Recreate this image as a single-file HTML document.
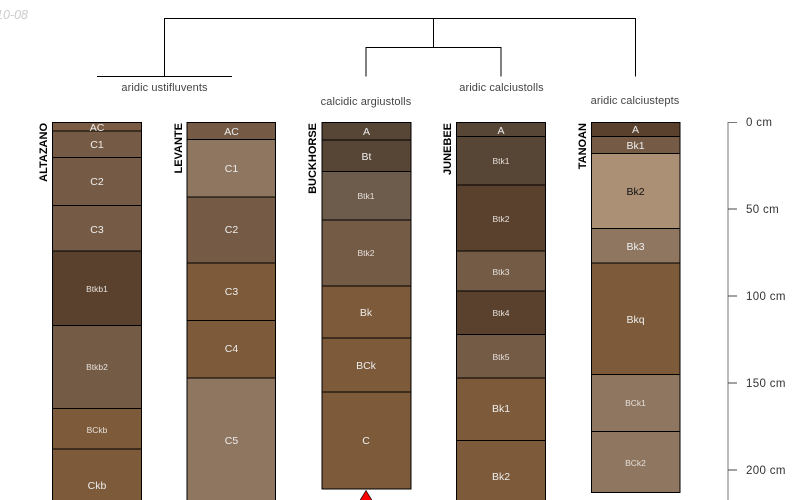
<!DOCTYPE html>
<html><head><meta charset="utf-8"><style>
html,body{margin:0;padding:0;background:#fff}
svg{display:block}
text{font-family:"Liberation Sans",sans-serif}
.h text{font-size:10.5px;fill:#eee;text-anchor:middle}
.h text.s{font-size:8.5px;fill:#e6e0da}
.n{font-size:11px;font-weight:bold;fill:#000;text-anchor:end}
.t{font-size:11px;fill:#444;text-anchor:middle;letter-spacing:.1px}
.d{font-size:11.5px;fill:#333;letter-spacing:.35px}
</style></head><body>
<svg width="800" height="500" viewBox="0 0 800 500" xmlns="http://www.w3.org/2000/svg">
<text x="28" y="19" text-anchor="end" font-size="12.5" font-style="italic" fill="#ccc">2010-08</text>
<g fill="none" stroke="#000" stroke-width="1">
<path d="M164.500 76V18.500H635.500V76.500"/><path d="M97 76.500H232"/>
<path d="M433.500 18.500V47.500"/><path d="M366 76.500V47.500H501V76.500"/>
</g>
<text class="t" x="164.500" y="91">aridic ustifluvents</text>
<text class="t" x="366" y="105">calcidic argiustolls</text>
<text class="t" x="501.500" y="91">aridic calciustolls</text>
<text class="t" x="635" y="104">aridic calciustepts</text>
<g stroke="#000" stroke-width="1">
<rect x="52.500" y="122.500" width="89" height="8.500" fill="#7a5c45"/>
<rect x="52.500" y="131" width="89" height="26.500" fill="#755b45"/>
<rect x="52.500" y="157.500" width="89" height="48" fill="#755b45"/>
<rect x="52.500" y="205.500" width="89" height="45.500" fill="#755b45"/>
<rect x="52.500" y="251" width="89" height="74.500" fill="#5a412e"/>
<rect x="52.500" y="325.500" width="89" height="83" fill="#745b46"/>
<rect x="52.500" y="408.500" width="89" height="40.500" fill="#7c5a3a"/>
<rect x="52.500" y="449" width="89" height="70" fill="#7c5a3a"/>
<rect x="187" y="122.500" width="88.500" height="17" fill="#755b45"/>
<rect x="187" y="139.500" width="88.500" height="57.500" fill="#8f7660"/>
<rect x="187" y="197" width="88.500" height="66" fill="#755b45"/>
<rect x="187" y="263" width="88.500" height="57.500" fill="#7c5a3a"/>
<rect x="187" y="320.500" width="88.500" height="57.500" fill="#7c5a3a"/>
<rect x="187" y="378" width="88.500" height="130" fill="#8f7660"/>
<rect x="322" y="122.500" width="89" height="17.500" fill="#574536"/>
<rect x="322" y="140" width="89" height="31.500" fill="#574536"/>
<rect x="322" y="171.500" width="89" height="48.500" fill="#6d5b4c"/>
<rect x="322" y="220" width="89" height="66" fill="#745b46"/>
<rect x="322" y="286" width="89" height="52" fill="#7c5a3a"/>
<rect x="322" y="338" width="89" height="54" fill="#7c5a3a"/>
<rect x="322" y="392" width="89" height="97" fill="#7c5a3a"/>
<rect x="456.500" y="122.500" width="89" height="14" fill="#574536"/>
<rect x="456.500" y="136.500" width="89" height="48.500" fill="#574536"/>
<rect x="456.500" y="185" width="89" height="66" fill="#5a412e"/>
<rect x="456.500" y="251" width="89" height="40" fill="#745b46"/>
<rect x="456.500" y="291" width="89" height="43.500" fill="#5a412e"/>
<rect x="456.500" y="334.500" width="89" height="43.500" fill="#745b46"/>
<rect x="456.500" y="378" width="89" height="62.500" fill="#7c5a3a"/>
<rect x="456.500" y="440.500" width="89" height="70" fill="#7c5a3a"/>
<rect x="591.500" y="122.500" width="88.500" height="14" fill="#5a412e"/>
<rect x="591.500" y="136.500" width="88.500" height="17" fill="#755b45"/>
<rect x="591.500" y="153.500" width="88.500" height="75" fill="#ab9076"/>
<rect x="591.500" y="228.500" width="88.500" height="34.500" fill="#8f7660"/>
<rect x="591.500" y="263" width="88.500" height="111.500" fill="#7c5a3a"/>
<rect x="591.500" y="374.500" width="88.500" height="57" fill="#8f7660"/>
<rect x="591.500" y="431.500" width="88.500" height="61" fill="#8f7660"/>
</g>
<g class="h">
<text x="97" y="131">AC</text><text x="97" y="148">C1</text><text x="97" y="185">C2</text><text x="97" y="233">C3</text>
<text class="s" x="97" y="292">Btkb1</text><text class="s" x="97" y="370">Btkb2</text><text class="s" x="97" y="433">BCkb</text><text x="97" y="489">Ckb</text>
<text x="231.500" y="135">AC</text><text x="231.500" y="172">C1</text><text x="231.500" y="233">C2</text><text x="231.500" y="295">C3</text><text x="231.500" y="352">C4</text><text x="231.500" y="444">C5</text>
<text x="366.500" y="135">A</text><text x="366.500" y="160">Bt</text><text class="s" x="366" y="199">Btk1</text><text class="s" x="366" y="256">Btk2</text><text x="366" y="316">Bk</text><text x="366" y="369">BCk</text><text x="366" y="444">C</text>
<text x="501" y="134">A</text><text class="s" x="501" y="164">Btk1</text><text class="s" x="501" y="222">Btk2</text><text class="s" x="501" y="275">Btk3</text><text class="s" x="501" y="316">Btk4</text><text class="s" x="501" y="360">Btk5</text><text x="501" y="412">Bk1</text><text x="501" y="480">Bk2</text>
<text x="635.500" y="133">A</text><text x="635.500" y="149">Bk1</text><text x="635.500" y="195" style="fill:#111">Bk2</text><text x="635.500" y="250">Bk3</text><text x="635.500" y="323">Bkq</text><text class="s" x="635.500" y="406">BCk1</text><text class="s" x="635.500" y="466">BCk2</text>
</g>
<text class="n" transform="translate(47,123) rotate(-90)">ALTAZANO</text>
<text class="n" transform="translate(182,123) rotate(-90)">LEVANTE</text>
<text class="n" transform="translate(316,123) rotate(-90)">BUCKHORSE</text>
<text class="n" transform="translate(451,123) rotate(-90)">JUNEBEE</text>
<text class="n" transform="translate(586,123) rotate(-90)">TANOAN</text>
<path d="M366 490.500L359 502H373Z" fill="#f00" stroke="#000" stroke-width="0.700"/>
<path d="M737 122.500H728V500" fill="none" stroke="#777" stroke-width="1"/>
<path d="M728 209H737M728 296H737M728 383H737M728 470H737" stroke="#444" stroke-width="1"/>
<text class="d" x="746" y="126">0 cm</text>
<text class="d" x="746" y="213">50 cm</text>
<text class="d" x="746" y="300">100 cm</text>
<text class="d" x="746" y="387">150 cm</text>
<text class="d" x="746" y="474">200 cm</text>
</svg>
</body></html>
